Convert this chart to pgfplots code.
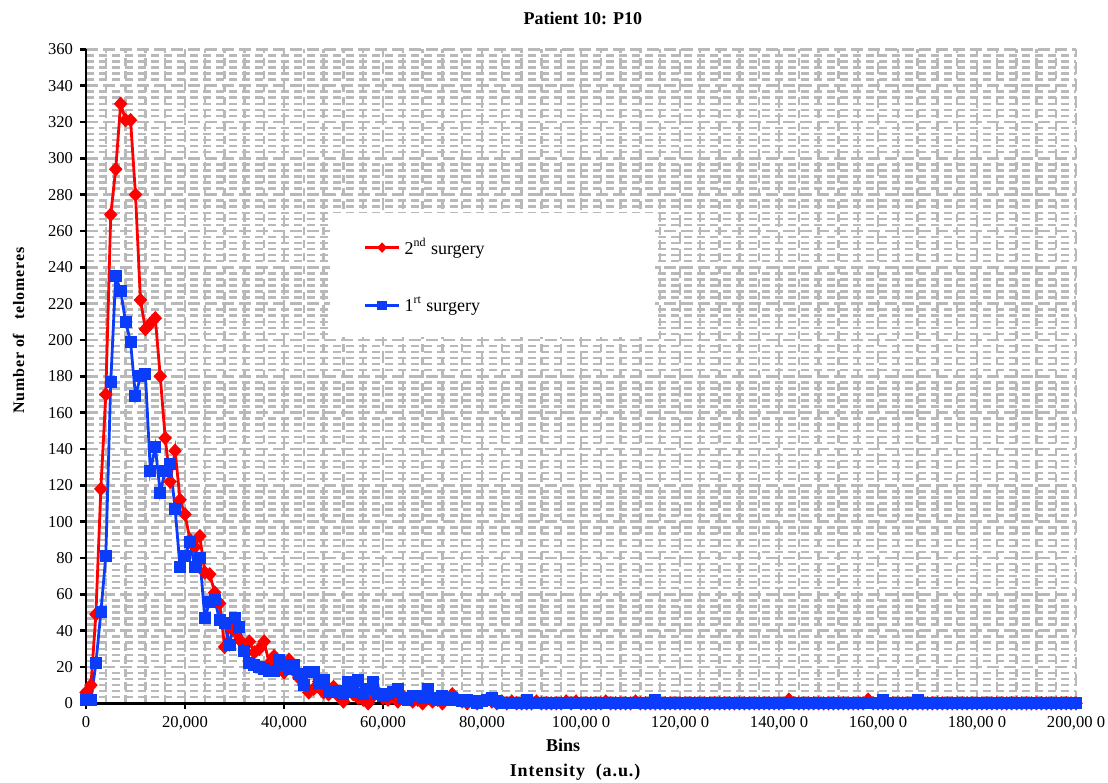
\documentclass[border=0pt]{standalone}
\usepackage{fontspec}
\setmainfont{Liberation Serif}
\newfontfamily\spacedfont[LetterSpace=5]{Liberation Serif}
\usepackage{pgfplots}
\pgfplotsset{compat=1.18}
\definecolor{serRed}{RGB}{255,0,0}
\definecolor{serBlue}{RGB}{10,60,250}
\definecolor{gridGray}{RGB}{185,185,185}

\begin{document}
\begin{tikzpicture}
\useasboundingbox (-43pt,-39.75pt) rectangle (511pt,351.65pt);
\begin{axis}[
  at={(0,0)}, anchor=south west,
  scale only axis, width=495pt, height=327pt,
  xmin=0, xmax=200, ymin=0, ymax=360,
  clip=false,
  axis x line*=bottom, axis y line*=left,
  axis line style={black, line width=1.4pt, -},
  xtick={0,20,...,200}, ytick={0,20,...,360},
  xticklabels={{0},{20,000},{40,000},{60,000},{80,000},{100,00 0},{120,00 0},{140,00 0},{160,00 0},{180,00 0},{200,00 0}},
  minor x tick num=4, minor y tick num=5,
  grid=both,
  major grid style={gridGray, line width=1.25pt, dash pattern=on 6pt off 2.5pt},
  minor grid style={gridGray, line width=1.25pt, dash pattern=on 4pt off 2.5pt},
  tick style={black, line width=1.2pt},
  major tick length=3pt, minor tick length=0pt, tick align=outside,
  /pgf/number format/assume math mode=true,
  tick label style={font=\fontsize{8.3}{10}\selectfont},
  title={\textbf{Patient 10: P10}},
  title style={font=\fontsize{9}{11}\selectfont, at={(0.502,1)}, anchor=center, yshift=9.5pt},
  ylabel={\spacedfont\bfseries Number of \ \ telomeres},
  ylabel style={font=\fontsize{8}{10}\selectfont, at={(axis description cs:-0.068,0.57)}, anchor=center, rotate=0},
  xlabel={\textbf{Bins}},
  xlabel style={font=\fontsize{9}{11}\selectfont, at={(axis description cs:0.482,-0.065)}, anchor=center},
  legend style={at={(0.28,0.718)}, anchor=north west, draw=none, fill=none, inner sep=0pt,
    row sep=16pt, font=\fontsize{9}{11}\selectfont},
  legend image post style={mark size=1.6pt},
  legend cell align=left,
]
\fill[white] (rel axis cs:0.246,0.560) rectangle (rel axis cs:0.575,0.750);
\node[font=\fontsize{9}{11}\selectfont] at (rel axis cs:0.494,-0.105) {\spacedfont\bfseries Intensity \ (a.u.)};

\addplot[serRed, line width=1.4pt, mark=diamond*, mark size=2.6pt,
  mark options={xscale=1.25, solid}]
  coordinates {
  (0,6)(1,10)(2,49)(3,118)(4,170)(5,269)(6,294)(7,330)(8,321)(9,321)
  (10,280)(11,222)(12,206)(13,209)(14,212)(15,180)(16,146)(17,122)(18,139)(19,112)
  (20,104)(21,90)(22,86)(23,92)(24,72)(25,71)(26,61)(27,55)(28,31)(29,42)
  (30,40)(31,35)(32,29)(33,34)(34,28)(35,30)(36,34)(37,22)(38,26)(39,20)
  (40,17)(41,24)(42,18)(43,14)(44,10)(45,6)(46,8)(47,12)(48,6)(49,5)
  (50,9)(51,4)(52,1)(53,7)(54,5)(55,3)(56,2)(57,0)(58,4)(59,6)
  (60,3)(61,2)(62,5)(63,1)(64,4)(65,3)(66,1)(67,2)(68,0)(69,3)
  (70,1)(71,2)(72,0)(73,3)(74,5)(75,2)(76,1)(77,0)(78,1)(79,0)
  (80,1)(81,2)(82,1)(83,0)(84,1)(85,0)(86,1)(87,0)(88,0)(89,0)
  (90,0)(91,1)(92,0)(93,0)(94,0)(95,0)(96,0)(97,1)(98,0)(99,1)
  (100,0)(101,0)(102,0)(103,0)(104,0)(105,1)(106,0)(107,0)(108,0)(109,0)
  (110,0)(111,1)(112,0)(113,0)(114,0)(115,0)(116,0)(117,0)(118,0)(119,0)
  (120,0)(121,0)(122,0)(123,0)(124,0)(125,0)(126,0)(127,0)(128,0)(129,0)
  (130,0)(131,0)(132,0)(133,0)(134,0)(135,0)(136,0)(137,0)(138,0)(139,0)
  (140,0)(141,0)(142,2)(143,0)(144,0)(145,0)(146,0)(147,0)(148,0)(149,0)
  (150,0)(151,0)(152,0)(153,0)(154,0)(155,0)(156,0)(157,0)(158,2)(159,0)
  (160,0)(161,0)(162,0)(163,0)(164,0)(165,0)(166,0)(167,0)(168,0)(169,0)
  (170,0)(171,0)(172,0)(173,0)(174,0)(175,0)(176,0)(177,0)(178,0)(179,0)
  (180,0)(181,0)(182,0)(183,0)(184,0)(185,0)(186,0)(187,0)(188,0)(189,0)
  (190,0)(191,0)(192,0)(193,0)(194,0)(195,0)(196,0)(197,0)(198,0)(199,0)
  (200,0)
  };
\addlegendentry{2\textsuperscript{nd} surgery}

\addplot[serBlue, line width=1.4pt, mark=square*, mark size=2.3pt, mark options={solid}]
  coordinates {
  (0,2)(1,2)(2,22)(3,50)(4,81)(5,177)(6,235)(7,227)(8,210)(9,199)
  (10,169)(11,180)(12,181)(13,128)(14,141)(15,116)(16,128)(17,132)(18,107)(19,75)
  (20,81)(21,89)(22,75)(23,80)(24,47)(25,56)(26,57)(27,46)(28,44)(29,32)
  (30,47)(31,42)(32,29)(33,22)(34,21)(35,20)(36,19)(37,18)(38,18)(39,24)
  (40,21)(41,19)(42,21)(43,16)(44,10)(45,17)(46,17)(47,11)(48,13)(49,6)
  (50,6)(51,7)(52,5)(53,12)(54,6)(55,13)(56,5)(57,8)(58,12)(59,5)
  (60,4)(61,5)(62,6)(63,8)(64,3)(65,2)(66,4)(67,4)(68,3)(69,8)
  (70,3)(71,2)(72,4)(73,2)(74,3)(75,2)(76,1)(77,2)(78,1)(79,0)
  (80,1)(81,2)(82,3)(83,1)(84,0)(85,0)(86,0)(87,0)(88,0)(89,2)
  (90,0)(91,0)(92,0)(93,0)(94,0)(95,0)(96,0)(97,0)(98,0)(99,0)
  (100,0)(101,0)(102,0)(103,0)(104,0)(105,0)(106,0)(107,0)(108,0)(109,0)
  (110,0)(111,0)(112,0)(113,0)(114,0)(115,2)(116,0)(117,0)(118,0)(119,0)
  (120,0)(121,0)(122,0)(123,0)(124,0)(125,0)(126,0)(127,0)(128,0)(129,0)
  (130,0)(131,0)(132,0)(133,0)(134,0)(135,0)(136,0)(137,0)(138,0)(139,0)
  (140,0)(141,0)(142,0)(143,0)(144,0)(145,0)(146,0)(147,0)(148,0)(149,0)
  (150,0)(151,0)(152,0)(153,0)(154,0)(155,0)(156,0)(157,0)(158,0)(159,0)
  (160,0)(161,2)(162,0)(163,0)(164,0)(165,0)(166,0)(167,0)(168,2)(169,0)
  (170,0)(171,0)(172,0)(173,0)(174,0)(175,0)(176,0)(177,0)(178,0)(179,0)
  (180,0)(181,0)(182,0)(183,0)(184,0)(185,0)(186,0)(187,0)(188,0)(189,0)
  (190,0)(191,0)(192,0)(193,0)(194,0)(195,0)(196,0)(197,0)(198,0)(199,0)
  (200,0)
  };
\addlegendentry{1\textsuperscript{rt} surgery}
\end{axis}
\end{tikzpicture}
\end{document}
